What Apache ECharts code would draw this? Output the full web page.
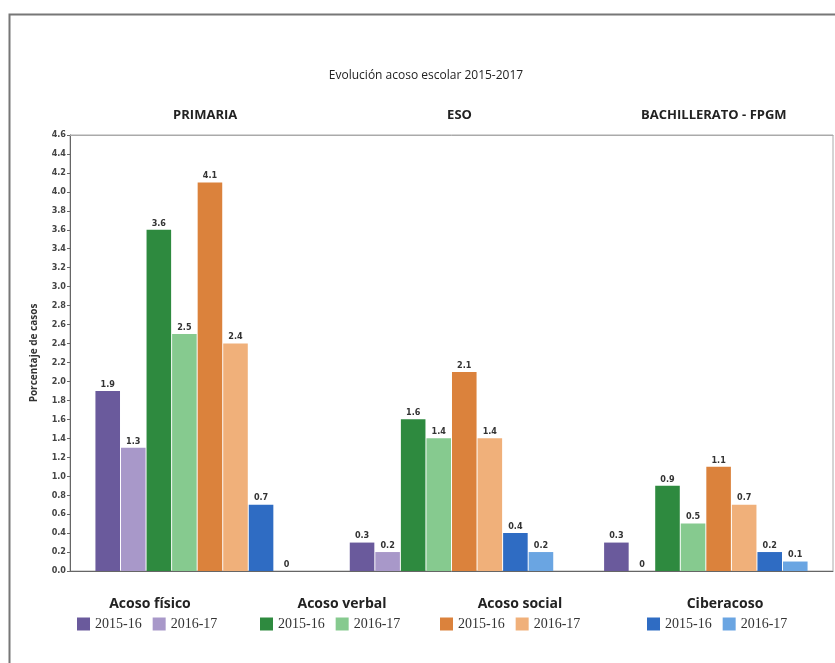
<!DOCTYPE html>
<html>
<head>
<meta charset="utf-8">
<style>html,body{margin:0;padding:0;background:#fff}#c{width:835px;height:663px}</style>
<script src="https://cdn.jsdelivr.net/npm/echarts@6/dist/echarts.min.js"></script>
</head>
<body>
<div id="c"></div>
<script>
const categories = ['PRIMARIA', 'ESO', 'BACHILLERATO - FPGM'];
const fisico1516 = [1.9, 0.3, 0.3];
const fisico1617 = [1.3, 0.2, 0];
const verbal1516 = [3.6, 1.6, 0.9];
const verbal1617 = [2.5, 1.4, 0.5];
const social1516 = [4.1, 2.1, 1.1];
const social1617 = [2.4, 1.4, 0.7];
const ciber1516 = [0.7, 0.4, 0.2];
const ciber1617 = [0, 0.2, 0.1];
const groupNames = ['Acoso físico', 'Acoso verbal', 'Acoso social', 'Ciberacoso'];
const periods = ['2015-16', '2016-17'];

const seriesDefs = [
  {id: 'f1', group: 0, period: 0, data: fisico1516, color: '#6a5a9c'},
  {id: 'f2', group: 0, period: 1, data: fisico1617, color: '#a898c9'},
  {id: 'v1', group: 1, period: 0, data: verbal1516, color: '#2e8a3f'},
  {id: 'v2', group: 1, period: 1, data: verbal1617, color: '#86ca8f'},
  {id: 's1', group: 2, period: 0, data: social1516, color: '#db823c'},
  {id: 's2', group: 2, period: 1, data: social1617, color: '#f0b07a'},
  {id: 'c1', group: 3, period: 0, data: ciber1516, color: '#2f6cc3'},
  {id: 'c2', group: 3, period: 1, data: ciber1617, color: '#6aa5e2'}
];

// series names must be unique for legends; use zero-width suffix per group
const nameOf = d => periods[d.period] + '\u200B'.repeat(d.group);

const series = seriesDefs.map(d => ({
  name: nameOf(d),
  type: 'bar',
  data: d.data,
  itemStyle: {color: d.color},
  barGap: '4%',
  barCategoryGap: '20%',
  label: {
    show: true, position: 'top', distance: 2,
    fontSize: 9, fontWeight: 'bold', color: '#333',
    fontFamily: 'Liberation Sans Narrow, DejaVu Sans Condensed, sans-serif',
    formatter: p => String(p.value)
  }
}));

const legendLefts = [72, 255, 435, 642];
const titleCenters = [145, 337, 515, 720];
const legends = groupNames.map((g, i) => ({
  left: legendLefts[i], top: 612,
  itemWidth: 13, itemHeight: 13, itemGap: 11, icon: 'rect',
  textStyle: {fontSize: 14, color: '#333', fontFamily: 'Liberation Serif, serif'},
  data: seriesDefs.filter(d => d.group === i).map(d => nameOf(d)),
  formatter: n => n.replace(/\u200B/g, ''),
  selectedMode: false
}));

const titles = [{
  text: 'Evolución acoso escolar 2015-2017', left: 421, top: 65, textAlign: 'center',
  textStyle: {fontSize: 12, fontWeight: 'normal', color: '#222', fontFamily: 'Open Sans, sans-serif'}
}].concat(groupNames.map((g, i) => ({
  text: g, left: titleCenters[i], top: 592, textAlign: 'center',
  textStyle: {fontSize: 14, fontWeight: 'bold', color: '#222', fontFamily: 'Open Sans, sans-serif'}
})));

const chart = echarts.init(document.getElementById('c'));
chart.setOption({
  animation: false,
  title: titles,
  legend: legends,
  grid: {left: 70, right: 2, top: 135, bottom: 92, show: true, borderColor: '#aaa', borderWidth: 1},
  xAxis: [{
    type: 'category', data: categories, position: 'bottom',
    axisLine: {lineStyle: {color: '#666'}}, axisTick: {show: false}, axisLabel: {show: false}
  }, {
    type: 'category', data: categories, position: 'top',
    axisLine: {lineStyle: {color: '#aaa'}}, axisTick: {show: false},
    axisLabel: {margin: 13, padding: [0, 0, 0, 16], fontSize: 13, fontWeight: 'bold', color: '#222', fontFamily: 'Open Sans, sans-serif'}
  }],
  yAxis: {
    type: 'value', min: 0, max: 4.6, interval: 0.2,
    name: 'Porcentaje de casos', nameLocation: 'middle', nameGap: 31,
    nameTextStyle: {fontSize: 10, fontWeight: 'bold', color: '#333', fontFamily: 'Open Sans, sans-serif'},
    axisLine: {show: true, lineStyle: {color: '#666'}},
    axisTick: {show: true, length: 3, lineStyle: {color: '#666'}},
    splitLine: {show: false},
    axisLabel: {fontSize: 9, fontWeight: 'bold', color: '#444', margin: 4,
      fontFamily: 'Liberation Sans Narrow, DejaVu Sans Condensed, sans-serif',
      formatter: v => v.toFixed(1)}
  },
  graphic: [{
    type: 'rect', left: 7, top: 12, z: -1,
    shape: {width: 900, height: 700},
    style: {fill: 'none', stroke: '#777', lineWidth: 2}
  }],
  series: series
});
</script>
</body>
</html>
